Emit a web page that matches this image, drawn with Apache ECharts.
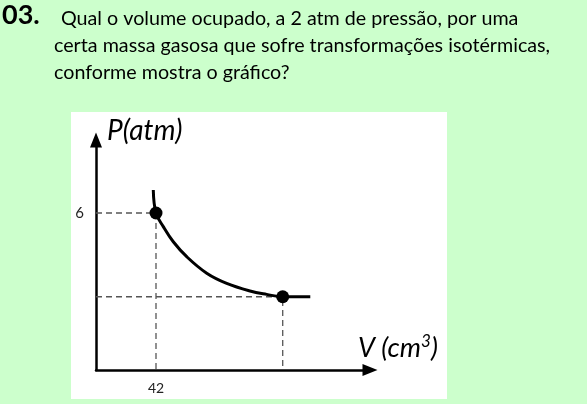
<!DOCTYPE html>
<html><head><meta charset="utf-8">
<script src="https://cdn.jsdelivr.net/npm/echarts@6/dist/echarts.min.js"></script>
<style>html,body{margin:0;padding:0;background:#CCFFCC}#c{width:587px;height:404px}</style>
</head><body><div id="c"></div>
<script>
// Data
const curveV = [40.1, 42, 47.1, 54.1, 63.5, 77.5, 91.5, 107.8, 119.5, 130.7, 150];
const curveP = [6.88, 6, 5.48, 4.90, 4.33, 3.70, 3.31, 3.02, 2.89, 2.80, 2.80];
const pointV = [42, 130.7];
const pointP = [6, 2.80];
const xTickLabels = [42];
const yTickLabels = [6];
const questionNumber = '03.';
const questionLines = ['Qual o volume ocupado, a 2 atm de pressão, por uma',
  'certa massa gasosa que sofre transformações isotérmicas,',
  'conforme mostra o gráfico?'];

const font = 'Lato, "Open Sans", sans-serif';
const chart = echarts.init(document.getElementById('c'));
const dash1 = [[0, pointP[0]], [pointV[0], pointP[0]], [pointV[0], 0]];
const dash2 = [[0, pointP[1]], [pointV[1], pointP[1]], [pointV[1], 0]];
chart.setOption({
  backgroundColor: '#CCFFCC',
  animation: false,
  graphic: [
    {type: 'rect', shape: {x: 71, y: 112, width: 376, height: 287}, style: {fill: '#ffffff'}, z: -10},
    {type: 'text', x: 2, y: 15, style: {text: questionNumber, font: 'bold 27px ' + font, fill: '#000', verticalAlign: 'middle'}},
    {type: 'text', x: 61, y: 19, style: {text: questionLines[0], font: '19.7px ' + font, fill: '#000', verticalAlign: 'middle'}},
    {type: 'text', x: 54, y: 46, style: {text: questionLines[1], font: '19.7px ' + font, fill: '#000', verticalAlign: 'middle'}},
    {type: 'text', x: 54, y: 73, style: {text: questionLines[2], font: '19.7px ' + font, fill: '#000', verticalAlign: 'middle'}}
  ],
  grid: {left: 96, top: 140, right: 217, bottom: 34, containLabel: false},
  xAxis: {
    type: 'value', min: 0, max: 191.8,
    name: 'V (cm{sup|3})', nameLocation: 'end', nameGap: 28,
    nameTextStyle: {fontFamily: font, fontStyle: 'italic', fontSize: 27, color: '#000', align: 'center', verticalAlign: 'bottom', padding: [0, 0, 6, 0],
      rich: {sup: {fontFamily: font, fontStyle: 'italic', fontSize: 17, color: '#000', verticalAlign: 'top', padding: [0, 0, 14, 0]}}},
    axisLine: {lineStyle: {color: '#000', width: 2.5}, symbol: ['none', 'triangle'], symbolSize: [12, 15]},
    axisTick: {show: false},
    splitLine: {show: false},
    axisLabel: {customValues: xTickLabels, fontFamily: font, fontSize: 14, color: '#222', margin: 11}
  },
  yAxis: {
    type: 'value', min: 0, max: 8.79,
    name: 'P(atm)', nameLocation: 'end', nameGap: 9,
    nameTextStyle: {fontFamily: font, fontStyle: 'italic', fontSize: 28, color: '#000', align: 'left', verticalAlign: 'middle', padding: [0, 0, 0, 11]},
    axisLine: {lineStyle: {color: '#000', width: 2.5}, symbol: ['none', 'triangle'], symbolSize: [12, 15]},
    axisTick: {show: false},
    splitLine: {show: false},
    axisLabel: {customValues: yTickLabels, fontFamily: font, fontSize: 15, color: '#222', margin: 12}
  },
  series: [
    {type: 'line', data: dash1, symbol: 'none', lineStyle: {color: '#555', width: 1.3, type: [6, 4]}, z: 1},
    {type: 'line', data: dash2, symbol: 'none', lineStyle: {color: '#555', width: 1.3, type: [6, 4]}, z: 1},
    {type: 'line', data: curveV.map((v, i) => [v, curveP[i]]), symbol: 'none', smooth: 0.4, lineStyle: {color: '#000', width: 3}, z: 2},
    {type: 'scatter', data: pointV.map((v, i) => [v, pointP[i]]), symbolSize: 13, itemStyle: {color: '#000', opacity: 1}, z: 3}
  ]
});
</script></body></html>
